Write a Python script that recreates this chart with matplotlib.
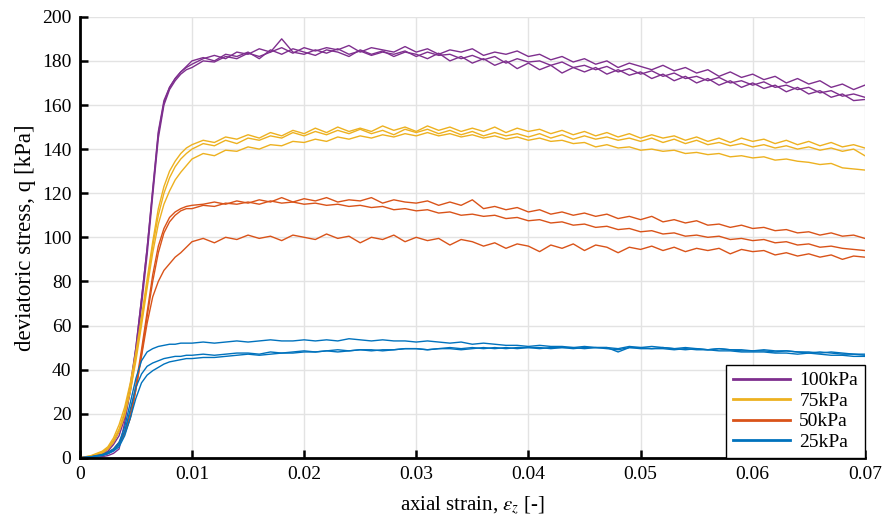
import matplotlib
matplotlib.use('Agg')
import matplotlib.pyplot as plt

plt.rcParams['font.family'] = ['Liberation Serif', 'DejaVu Serif']
plt.rcParams['mathtext.fontset'] = 'stix'

# axial strain grid (toe/rise part + plateau part)
strain_rise = [0, 0.001, 0.002, 0.0025, 0.003, 0.0035, 0.004, 0.0045, 0.005,
               0.0055, 0.006, 0.0065, 0.007, 0.0075, 0.008, 0.0085, 0.009, 0.0095]
strain_plateau = [0.010, 0.011, 0.012, 0.013, 0.014, 0.015, 0.016, 0.017, 0.018, 0.019,
                  0.020, 0.021, 0.022, 0.023, 0.024, 0.025, 0.026, 0.027, 0.028, 0.029,
                  0.030, 0.031, 0.032, 0.033, 0.034, 0.035, 0.036, 0.037, 0.038, 0.039,
                  0.040, 0.041, 0.042, 0.043, 0.044, 0.045, 0.046, 0.047, 0.048, 0.049,
                  0.050, 0.051, 0.052, 0.053, 0.054, 0.055, 0.056, 0.057, 0.058, 0.059,
                  0.060, 0.061, 0.062, 0.063, 0.064, 0.065, 0.066, 0.067, 0.068, 0.069,
                  0.070]
strain = strain_rise + strain_plateau

# deviatoric stress q [kPa], 3 tests per confining pressure
q100_a = [0, 0.5, 2, 4, 7, 12, 20, 33, 50, 72, 95, 122, 148, 162, 168, 172, 175, 177] + [
    178.5, 181, 182.5, 181, 184, 183, 185.5, 184, 186, 183.5,
    186, 184.5, 186, 185, 187, 184, 186, 185, 184, 186.5,
    184, 185.5, 183, 185, 184, 185.5, 182.5, 184, 183, 184.5,
    182, 183, 180.5, 182, 179.5, 181, 178.5, 180, 177, 179,
    177.5, 176, 178, 175.5, 177, 174.5, 176, 173, 175, 172.5,
    174, 171.5, 173, 170, 172, 169.5, 171, 168, 169.5, 167,
    169]
q100_b = [0, 0.3, 1.5, 3, 6, 10, 18, 30, 47, 69, 92, 119, 145, 160, 167, 171, 174, 176] + [
    177, 180, 179.5, 182, 181, 183.5, 182, 184, 190, 184,
    183, 185, 183.5, 185.5, 183, 184.5, 182.5, 184, 183, 184.5,
    182, 184, 182.5, 183, 181, 182.5, 180.5, 182, 179, 181,
    179.5, 180, 178, 179.5, 177, 178, 176, 177.5, 175, 176.5,
    174, 175.5, 173, 174.5, 172, 173, 171, 172.5, 170, 171,
    169, 170.5, 168, 169, 167, 168, 165.5, 166.5, 164, 165,
    163.5]
q100_c = [0, 0.2, 0.5, 1, 2, 4, 16, 31, 50, 72, 95, 121, 147, 161, 168, 172, 175, 177.5] + [
    180, 181.5, 180, 183, 182, 184, 181, 185, 183, 185.5,
    184, 182.5, 185, 184, 182, 185, 183, 184.5, 182, 184,
    183, 181, 183.5, 180, 182, 179, 181, 178, 180, 176.5,
    179, 176, 178, 174.5, 177, 175, 177, 174, 176, 173.5,
    175, 172, 174, 171, 173, 170, 172, 169, 171, 168,
    170, 167.5, 169, 166, 168, 165, 166.5, 163.5, 165, 162,
    162.5]

q75_a = [0, 1, 3, 5, 9, 15, 23, 34, 48, 64, 81, 98, 113, 123, 130, 134.5, 138, 140.5] + [
    142, 144, 143, 145.5, 144.5, 146.5, 145, 147.5, 146, 148.5,
    147, 149.5, 147.5, 150, 148, 149.5, 148, 150.5, 148.5, 150,
    148, 150.5, 148.5, 150, 148, 149.5, 148, 150, 147.5, 149.5,
    148, 149, 147, 148.5, 146.5, 148, 146, 147.5, 145.5, 147,
    145, 146.5, 145, 146, 144, 145.5, 143.5, 145, 143, 145,
    143.5, 144.5, 142.5, 144, 142, 143.5, 141.5, 143, 141, 142,
    140.5]
q75_b = [0, 0.8, 2.5, 4.5, 8, 13, 21, 32, 46, 62, 79, 96, 110, 120, 127, 132, 135.5, 138] + [
    140, 142.5, 141.5, 144, 142.5, 145, 144, 146, 145, 147.5,
    146, 148, 146.5, 148.5, 147, 149, 147, 148.5, 146.5, 149,
    147.5, 149, 147, 148.5, 146.5, 148, 146, 147.5, 146, 147,
    145.5, 147, 145, 146.5, 144.5, 146, 144.5, 145.5, 144, 145,
    143.5, 145, 143, 144.5, 142.5, 144, 142, 143, 141.5, 142.5,
    141, 142, 140.5, 141.5, 140, 141, 139.5, 140.5, 139, 140,
    137]
q75_c = [0, 0.7, 2, 4, 7, 12, 19, 30, 44, 60, 77, 93, 106, 115, 121, 126, 129.5, 132.5] + [
    135.5, 138, 137, 139.5, 139, 141, 140, 142, 141.5, 143.5,
    143, 144.5, 143.5, 145.5, 144.5, 146, 145, 146.5, 145.5, 147,
    146, 147.5, 146, 147, 145.5, 146.5, 145, 146, 144.5, 145.5,
    144, 145, 143.5, 144, 142.5, 143, 141, 142, 140.5, 141,
    139.5, 140, 139, 139.5, 138, 138.5, 137.5, 138, 136.5, 137,
    136, 136.5, 135, 135.5, 134.5, 134, 133, 133.5, 131.5, 131,
    130.5]

q50_a = [0, 0.5, 1.5, 2.5, 4, 7, 12, 20, 33, 49, 66, 83, 96, 104, 109, 111.5, 113, 114] + [
    114.5, 115, 116, 115, 116.5, 115.5, 117, 116, 118, 116,
    117.5, 116.5, 118, 116, 117, 116.5, 118, 115.5, 117, 116,
    115.5, 116.5, 114.5, 116, 114.5, 117, 113, 114, 112.5, 113.5,
    111.5, 112.5, 110.5, 111.5, 110, 111, 109.5, 110.5, 108.5, 109.5,
    108, 109.5, 107, 108, 106.5, 107.5, 105.5, 106, 104.5, 105.5,
    104, 104.5, 103, 103.5, 102, 102.5, 101, 102, 100.5, 101,
    99.5]
q50_b = [0, 0.4, 1.2, 2, 3.5, 6, 11, 18, 31, 47, 64, 80, 93, 102, 107, 110, 112, 113] + [
    113, 114.5, 114, 115.5, 115, 116, 115, 116.5, 115.5, 116,
    115, 115.5, 114.5, 115, 114, 114.5, 113.5, 114, 112.5, 113,
    112, 112.5, 111, 111.5, 110, 110.5, 109.5, 110, 108.5, 109,
    107.5, 108, 106.5, 107, 105.5, 106, 104.5, 105, 103.5, 104,
    102.5, 103, 101.5, 102, 100.5, 101, 100, 100.5, 99, 99.5,
    98.5, 99, 97.5, 98, 96.5, 97, 95.5, 96, 95, 94.5,
    94]
q50_c = [0, 0.4, 1.2, 2, 3.5, 6, 11, 18, 31, 46, 61, 73, 80, 85, 88, 91, 93, 95.5] + [
    98, 99.5, 97.5, 100, 99, 101, 99.5, 100.5, 98.5, 101,
    100, 99, 101.5, 99.5, 100.5, 97.5, 100, 99, 101, 98,
    100, 98.5, 99.5, 96.5, 99, 98, 96, 97.5, 95, 97,
    96, 93.5, 96.5, 95, 97, 94, 96.5, 95.5, 93, 95.5,
    94.5, 96, 94, 95.5, 93.5, 95, 94, 95, 92.5, 94.5,
    93.5, 94, 92, 93, 91.5, 92.5, 91, 92, 90, 91.5,
    91]

q25_a = [0, 0.5, 1.5, 2.5, 4, 7, 14, 25, 36, 44, 48, 49.5, 50.5, 51, 51.5, 51.5, 52, 52] + [
    52, 52.5, 52, 52.5, 53, 52.5, 53, 53.5, 53, 53,
    53.5, 53, 53.5, 53, 54, 53.5, 53, 53.5, 53, 53,
    52.5, 53, 52.5, 52, 52.5, 51.5, 52, 51.5, 51, 51,
    50.5, 51, 50.5, 50.5, 50, 50.5, 50, 50, 49.5, 50.5,
    50, 50.5, 50, 49.5, 50, 49.5, 49, 49.5, 49, 49,
    48.5, 49, 48.5, 48.5, 48, 48, 47.5, 48, 47.5, 47,
    47]
q25_b = [0, 0.4, 1.2, 2, 3.5, 6, 12, 22, 32, 38, 41.5, 43, 44, 45, 45.5, 46, 46, 46.5] + [
    46.5, 47, 46.5, 47, 47.5, 47.5, 47, 48, 47.5, 48,
    48.5, 48, 48.5, 49, 48.5, 49, 49, 48.5, 49, 49.5,
    49.5, 49, 49.5, 50, 49.5, 50, 49.5, 50, 49.5, 50,
    50, 49.5, 50, 50, 49.5, 50, 50, 49.5, 49, 50,
    49.5, 49.5, 50, 49.5, 49, 49.5, 49, 49.5, 49, 48.5,
    48.5, 48.5, 48, 48.5, 48, 47.5, 48, 47.5, 47, 47,
    46.5]
q25_c = [0, 0.3, 1, 1.8, 3, 5, 10, 18, 27, 34, 37.5, 39.5, 41, 42.5, 43.5, 44, 44.5, 45] + [
    45, 45.5, 45.5, 46, 46.5, 47, 46.5, 47, 47.5, 47.5,
    48, 48, 48.5, 48, 48.5, 49, 48.5, 49, 49, 49.5,
    49.5, 49, 49.5, 49.5, 49, 49.5, 50, 49.5, 50, 49.5,
    50, 50, 49.5, 50, 50, 49.5, 50, 50, 48, 50,
    50, 49.5, 49.5, 49, 49.5, 49, 49, 48.5, 48.5, 48,
    48, 48, 47.5, 47.5, 47, 47.5, 47, 46.5, 46.5, 46,
    46]

labels = ['100kPa', '75kPa', '50kPa', '25kPa']
colors = ['#7E2F8E', '#EDB120', '#D95319', '#0072BD']
groups = [[q100_a, q100_b, q100_c],
          [q75_a, q75_b, q75_c],
          [q50_a, q50_b, q50_c],
          [q25_a, q25_b, q25_c]]

fig = plt.figure(figsize=(8.87, 5.25), dpi=100)
ax = fig.add_axes([0.090, 0.128, 0.885, 0.840])

handles = []
for lab, col, curves in zip(labels, colors, groups):
    for k, q in enumerate(curves):
        ln, = ax.plot(strain, q, color=col, lw=1.0)
        if k == 0:
            handles.append(ln)

ax.set_xlim(0, 0.07)
ax.set_ylim(0, 200)
ax.set_xticks([0, 0.01, 0.02, 0.03, 0.04, 0.05, 0.06, 0.07])
ax.set_xticklabels(['0', '0.01', '0.02', '0.03', '0.04', '0.05', '0.06', '0.07'])
ax.set_yticks(range(0, 201, 20))

ax.grid(True, color='#e3e3e3', lw=1.0)
ax.set_axisbelow(True)
for side in ['top', 'right']:
    ax.spines[side].set_visible(False)
for side in ['left', 'bottom']:
    ax.spines[side].set_linewidth(2.0)
ax.tick_params(direction='in', length=6, width=1.8, labelsize=14, pad=6)

ax.set_xlabel(r'axial strain, $\epsilon_z$ [-]', fontsize=15, labelpad=8)
ax.set_ylabel('deviatoric stress, q [kPa]', fontsize=16.5, labelpad=4)

leg = ax.legend(handles, labels, loc='lower right', fontsize=14, frameon=True,
                fancybox=False, edgecolor='black', framealpha=1, handlelength=2.9,
                borderaxespad=0, labelspacing=0.15, handletextpad=0.5, borderpad=0.35)
leg.get_frame().set_linewidth(1.0)
for h in leg.get_lines():
    h.set_linewidth(2.0)

fig.savefig('out.png', dpi=100)
